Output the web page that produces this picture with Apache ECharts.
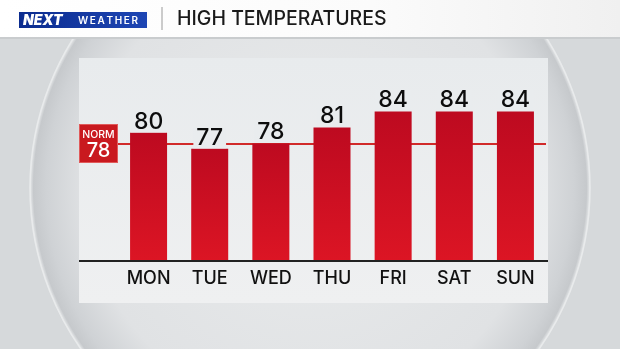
<!DOCTYPE html>
<html><head><meta charset="utf-8">
<script src="https://cdn.jsdelivr.net/npm/echarts@6/dist/echarts.min.js"></script>
<style>html,body{margin:0;padding:0;background:#d6d9db}#c{width:620px;height:349px}</style>
</head><body><div id="c"></div>
<script>
const categories = ['MON','TUE','WED','THU','FRI','SAT','SUN'];
const highs = [80, 77, 78, 81, 84, 84, 84];
const normalHigh = 78;
const title = 'HIGH TEMPERATURES';

const chart = echarts.init(document.getElementById('c'), null, {renderer:'canvas'});
const FONT = 'Inter, "Noto Sans", sans-serif';
chart.setOption({
  animation:false,
  backgroundColor:'#d6d9db',
  graphic:[
    {type:'circle', z:-10, shape:{cx:310, cy:188, r:280},
      style:{fill:new echarts.graphic.RadialGradient(0.5,0.5,0.5,[
        {offset:0,color:'#e9ebec'},{offset:0.8,color:'#e0e2e4'},
        {offset:0.94,color:'#cfd2d5'},{offset:0.985,color:'#c6c9cc'},{offset:1,color:'#eef0f1'}]),
        stroke:'#e9ebec', lineWidth:1.5}},
    {type:'rect', z:-5, shape:{x:0,y:0,width:620,height:37},
      style:{fill:new echarts.graphic.LinearGradient(0,0,1,0,[{offset:0,color:'#ffffff'},{offset:0.6,color:'#fbfbfb'},{offset:1,color:'#f0f0f0'}])}},
    {type:'rect', z:-5, shape:{x:0,y:37,width:620,height:2}, style:{fill:'#c9ccce'}},
    {type:'rect', z:-4, shape:{x:79,y:58,width:469,height:245},
      style:{fill:new echarts.graphic.LinearGradient(0,0,0,1,[{offset:0,color:'#e8ebed'},{offset:1,color:'#eff0f1'}])}},
    {type:'rect', z:10, shape:{x:79,y:260,width:469,height:2}, style:{fill:'#222'}},
    {type:'rect', z:5, shape:{x:19,y:12,width:128,height:16},
      style:{fill:new echarts.graphic.LinearGradient(0,0,1,0,[{offset:0,color:'#0b2c8f'},{offset:1,color:'#1e46b4'}])}},
    {type:'text', z:6, x:23, y:20.5, style:{text:'NEXT', fill:'#fff', font:'italic 900 14px '+FONT, verticalAlign:'middle'}},
    {type:'text', z:6, x:78, y:20.5, style:{text:'W\u2009E\u2009A\u2009T\u2009H\u2009E\u2009R', fill:'#fff', font:'600 10px '+FONT, verticalAlign:'middle'}},
    {type:'rect', z:5, shape:{x:161.5,y:7,width:1,height:23}, style:{fill:'#9a9a9a'}},
    {type:'text', z:6, x:177, y:19.5, style:{text:title, fill:'#1a1a1a', font:'500 19.5px '+FONT, verticalAlign:'middle'}}
  ],
  grid:{left:118, right:74, top:58, bottom:88},
  xAxis:{type:'category', data:categories,
    axisLine:{show:false}, axisTick:{show:false},
    axisLabel:{color:'#111', fontSize:18, fontWeight:500, fontFamily:FONT, margin:9}},
  yAxis:{type:'value', min:56, max:94, show:false, splitLine:{show:false}},
  series:[{
    type:'bar', data:highs, barWidth:37, z:3,
    itemStyle:{color:new echarts.graphic.LinearGradient(0,0,0,1,[{offset:0,color:'#bd0a20'},{offset:1,color:'#dc1524'}])},
    label:{show:true, position:'top', distance:0.5, color:'#0d0d0d', fontSize:23, fontWeight:500, fontFamily:FONT,
      backgroundColor:'#e9ecee', padding:[0,3,0,3], lineHeight:21},
    markLine:{symbol:'none', silent:true, z:2,
      lineStyle:{color:'#d12a2a', width:2, type:'solid'},
      data:[{yAxis:normalHigh}],
      label:{show:true, position:'start', distance:1, backgroundColor:'#c9191f', borderColor:'#e05a5a', borderWidth:1,
        padding:[3,2,1,2], width:33,
        formatter:function(p){return '{a|NORM}\n{b|'+p.value+'}';},
        rich:{a:{color:'#fff', fontSize:10.5, fontFamily:FONT, fontWeight:500, lineHeight:13, align:'center', width:33},
              b:{color:'#fff', fontSize:20, fontFamily:FONT, fontWeight:500, lineHeight:20, align:'center', width:33}}}
    }
  }]
});
</script></body></html>
